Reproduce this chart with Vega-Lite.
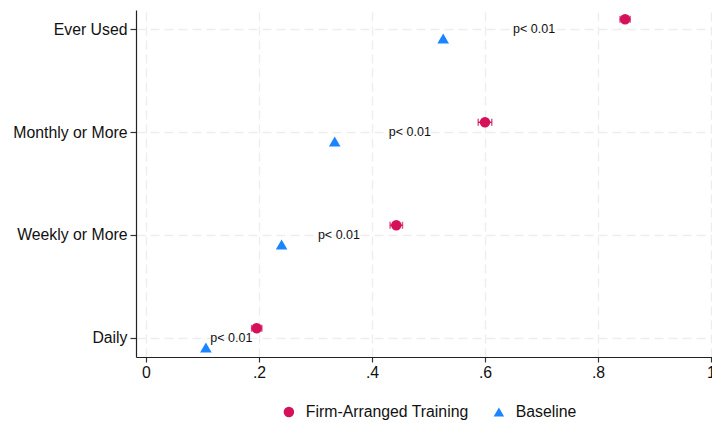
{
  "$schema": "https://vega.github.io/schema/vega-lite/v6.json",
  "width": 586,
  "height": 347,
  "autosize": {"type": "none"},
  "padding": {"left": 136, "top": 10, "right": 0, "bottom": 66},
  "background": "white",
  "config": {
    "font": "Liberation Sans",
    "view": {"stroke": null},
    "axis": {
      "labelFont": "Liberation Sans",
      "labelFontSize": 15.8,
      "labelColor": "#111111",
      "domainColor": "#222222",
      "domainWidth": 1.2,
      "tickColor": "#333333",
      "tickWidth": 1.2,
      "tickSize": 6,
      "gridColor": "#ededed",
      "gridDash": [9, 5],
      "gridWidth": 1.4,
      "title": null
    },
    "legend": {
      "labelFont": "Liberation Sans",
      "labelFontSize": 15.8,
      "labelColor": "#111111",
      "labelLimit": 400,
      "padding": 0
    }
  },
  "data": {
    "values": [
      {"freq": "Ever Used", "group": "Firm-Arranged Training", "value": 0.848, "lo": 0.839, "hi": 0.857, "p": "p< 0.01"},
      {"freq": "Ever Used", "group": "Baseline", "value": 0.526, "p": "p< 0.01"},
      {"freq": "Monthly or More", "group": "Firm-Arranged Training", "value": 0.600, "lo": 0.588, "hi": 0.612, "p": "p< 0.01"},
      {"freq": "Monthly or More", "group": "Baseline", "value": 0.334, "p": "p< 0.01"},
      {"freq": "Weekly or More", "group": "Firm-Arranged Training", "value": 0.443, "lo": 0.432, "hi": 0.454, "p": "p< 0.01"},
      {"freq": "Weekly or More", "group": "Baseline", "value": 0.240, "p": "p< 0.01"},
      {"freq": "Daily", "group": "Firm-Arranged Training", "value": 0.196, "lo": 0.187, "hi": 0.205, "p": "p< 0.01"},
      {"freq": "Daily", "group": "Baseline", "value": 0.106, "p": "p< 0.01"}
    ]
  },
  "encoding": {
    "y": {
      "field": "freq",
      "type": "nominal",
      "scale": {"type": "point", "domain": ["Ever Used", "Monthly or More", "Weekly or More", "Daily"], "padding": 0.1845},
      "axis": {"grid": true, "labelPadding": 3}
    }
  },
  "layer": [
    {
      "transform": [{"filter": "isValid(datum.lo)"}],
      "mark": {"type": "rule", "color": "#D41159", "strokeWidth": 1.5, "yOffset": -9.7},
      "encoding": {
        "x": {
          "field": "lo",
          "type": "quantitative",
          "scale": {"domain": [-0.0177, 1.0195], "nice": false, "zero": false},
          "axis": {
            "values": [0, 0.2, 0.4, 0.6, 0.8, 1],
            "grid": true,
            "tickSize": 5,
            "labelPadding": 3,
            "labelExpr": "datum.value == 0 ? '0' : datum.value == 1 ? '1' : replace(format(datum.value, '.1f'), '0.', '.')"
          }
        },
        "x2": {"field": "hi"}
      }
    },
    {
      "transform": [{"filter": "isValid(datum.lo)"}],
      "mark": {"type": "tick", "color": "#D41159", "thickness": 1.5, "size": 7, "yOffset": -9.7},
      "encoding": {"x": {"field": "lo", "type": "quantitative"}}
    },
    {
      "transform": [{"filter": "isValid(datum.hi)"}],
      "mark": {"type": "tick", "color": "#D41159", "thickness": 1.5, "size": 7, "yOffset": -9.7},
      "encoding": {"x": {"field": "hi", "type": "quantitative"}}
    },
    {
      "transform": [{"filter": "datum.group == 'Firm-Arranged Training'"}],
      "mark": {"type": "point", "filled": true, "opacity": 1, "size": 110, "yOffset": -9.7},
      "encoding": {
        "x": {"field": "value", "type": "quantitative"},
        "color": {
          "field": "group",
          "type": "nominal",
          "scale": {"domain": ["Firm-Arranged Training", "Baseline"], "range": ["#D41159", "#1A85FF"]},
          "legend": {
            "title": null,
            "orient": "none",
            "direction": "horizontal",
            "legendX": 145,
            "legendY": 394,
            "symbolSize": 110,
            "labelOffset": 9,
            "columnPadding": 22
          }
        },
        "shape": {
          "field": "group",
          "type": "nominal",
          "scale": {"domain": ["Firm-Arranged Training", "Baseline"], "range": ["circle", "triangle-up"]}
        }
      }
    },
    {
      "transform": [{"filter": "datum.group == 'Baseline'"}],
      "mark": {"type": "point", "filled": true, "opacity": 1, "size": 135, "yOffset": 9.5},
      "encoding": {
        "x": {"field": "value", "type": "quantitative"},
        "color": {"field": "group", "type": "nominal"},
        "shape": {"field": "group", "type": "nominal"}
      }
    },
    {
      "mark": {"type": "text", "font": "Liberation Sans", "fontSize": 12.5, "color": "#111111", "align": "center", "baseline": "middle"},
      "encoding": {
        "x": {"aggregate": "mean", "field": "value", "type": "quantitative"},
        "text": {"field": "p", "type": "nominal"}
      }
    }
  ]
}
